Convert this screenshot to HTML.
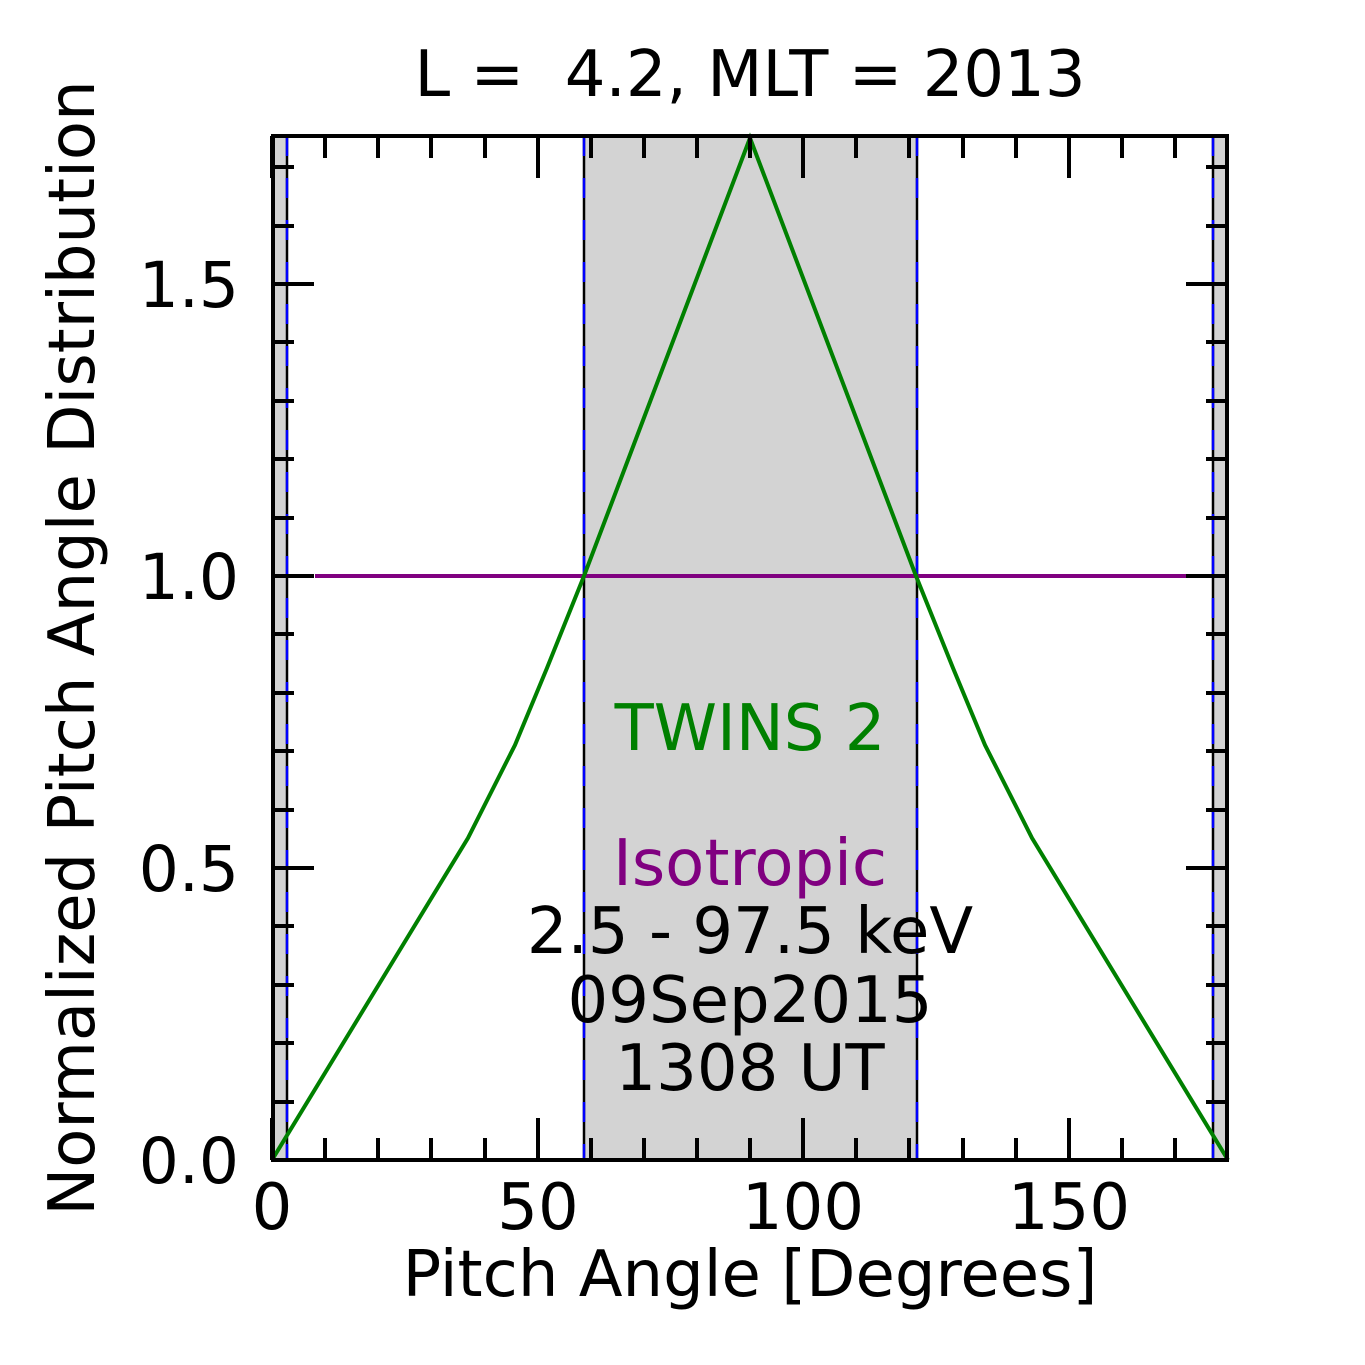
<!DOCTYPE html>
<html><head><style>body{margin:0;background:#fff}svg{display:block}</style></head><body>
<svg width="1365" height="1365" viewBox="0 0 1365 1365" xmlns="http://www.w3.org/2000/svg" font-family="DejaVu Sans, Liberation Sans, sans-serif">
<rect width="1365" height="1365" fill="#fff"/>
<rect x="273" y="136" width="14" height="1024" fill="#d3d3d3"/>
<rect x="584" y="136" width="333" height="1024" fill="#d3d3d3"/>
<rect x="1213" y="136" width="14" height="1024" fill="#d3d3d3"/>
<g stroke-width="2.5">
<g stroke="#000"><line x1="287" y1="136" x2="287" y2="1160"/><line x1="584" y1="136" x2="584" y2="1160"/><line x1="917" y1="136" x2="917" y2="1160"/><line x1="1213" y1="136" x2="1213" y2="1160"/></g>
<g stroke="#0000ff" stroke-dasharray="20 22"><line x1="287" y1="136" x2="287" y2="1160"/><line x1="584" y1="136" x2="584" y2="1160"/><line x1="917" y1="136" x2="917" y2="1160"/><line x1="1213" y1="136" x2="1213" y2="1160"/></g>
</g>
<line x1="315" y1="576" x2="1186" y2="576" stroke="#800080" stroke-width="4"/>
<polyline fill="none" stroke="#008000" stroke-width="4" points="272,1160 468,838 515,745 547,668 584,576 750,138 916,576 953,668 985,745 1032,838 1228,1160"/>
<g stroke="#000" stroke-width="4">
<g id="xt">
<line x1="272" y1="1160" x2="272" y2="1118"/><line x1="325" y1="1160" x2="325" y2="1138"/><line x1="378" y1="1160" x2="378" y2="1138"/><line x1="431" y1="1160" x2="431" y2="1138"/><line x1="485" y1="1160" x2="485" y2="1138"/><line x1="538" y1="1160" x2="538" y2="1118"/><line x1="591" y1="1160" x2="591" y2="1138"/><line x1="644" y1="1160" x2="644" y2="1138"/><line x1="697" y1="1160" x2="697" y2="1138"/><line x1="750" y1="1160" x2="750" y2="1138"/><line x1="803" y1="1160" x2="803" y2="1118"/><line x1="856" y1="1160" x2="856" y2="1138"/><line x1="909" y1="1160" x2="909" y2="1138"/><line x1="963" y1="1160" x2="963" y2="1138"/><line x1="1016" y1="1160" x2="1016" y2="1138"/><line x1="1069" y1="1160" x2="1069" y2="1118"/><line x1="1122" y1="1160" x2="1122" y2="1138"/><line x1="1175" y1="1160" x2="1175" y2="1138"/>
</g>
<use href="#xt" transform="translate(0,1296) scale(1,-1)"/>
<g id="yt">
<line x1="272" y1="1160" x2="314" y2="1160"/><line x1="272" y1="1102" x2="294" y2="1102"/><line x1="272" y1="1043" x2="294" y2="1043"/><line x1="272" y1="985" x2="294" y2="985"/><line x1="272" y1="926" x2="294" y2="926"/><line x1="272" y1="868" x2="314" y2="868"/><line x1="272" y1="810" x2="294" y2="810"/><line x1="272" y1="751" x2="294" y2="751"/><line x1="272" y1="693" x2="294" y2="693"/><line x1="272" y1="634" x2="294" y2="634"/><line x1="272" y1="576" x2="314" y2="576"/><line x1="272" y1="518" x2="294" y2="518"/><line x1="272" y1="459" x2="294" y2="459"/><line x1="272" y1="401" x2="294" y2="401"/><line x1="272" y1="342" x2="294" y2="342"/><line x1="272" y1="284" x2="314" y2="284"/><line x1="272" y1="226" x2="294" y2="226"/><line x1="272" y1="167" x2="294" y2="167"/>
</g>
<use href="#yt" transform="translate(1500,0) scale(-1,1)"/>
<rect x="273" y="136" width="954" height="1024" fill="none"/>
</g>
<g font-size="64" fill="#000" text-anchor="middle">
<text x="750" y="96">L =&#160; 4.2, MLT = 2013</text>
<text x="272" y="1229">0</text><text x="538" y="1229">50</text><text x="803" y="1229">100</text><text x="1069" y="1229">150</text>
<text x="750" y="1296">Pitch Angle [Degrees]</text>
<text transform="translate(94,648) rotate(-90)">Normalized Pitch Angle Distribution</text>
</g>
<g font-size="63" fill="#000" text-anchor="end">
<text x="239" y="1183">0.0</text><text x="239" y="891">0.5</text><text x="239" y="599">1.0</text><text x="239" y="307">1.5</text>
</g>
<g font-size="64" text-anchor="middle">
<text x="750" y="750" fill="#008000">TWINS 2</text>
<text x="750" y="885" fill="#800080">Isotropic</text>
<text x="750" y="953" fill="#000">2.5 - 97.5 keV</text>
<text x="750" y="1022" fill="#000">09Sep2015</text>
<text x="750" y="1090" fill="#000">1308 UT</text>
</g>
</svg>
</body></html>
